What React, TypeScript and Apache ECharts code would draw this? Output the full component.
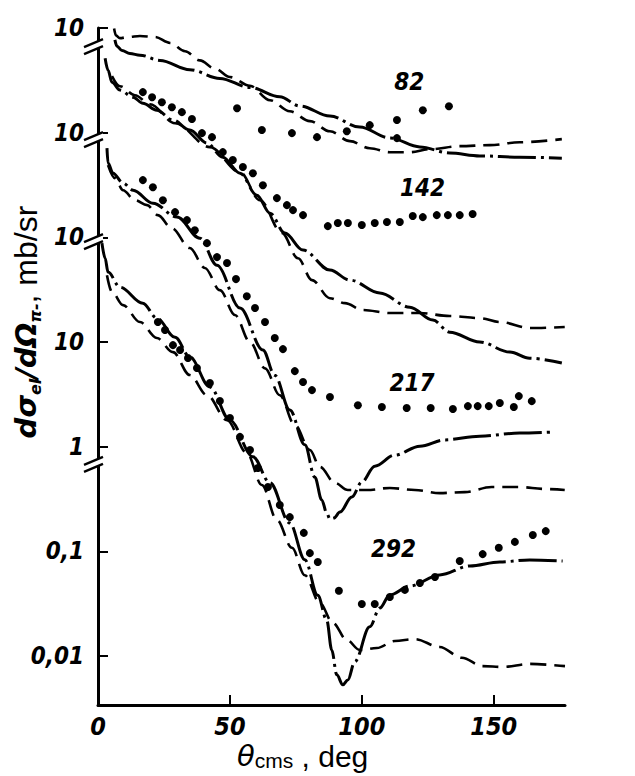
import React, { useEffect, useRef } from "react";
import * as echarts from "echarts";

type P = [number, number];

// ---- axes ----
const xMin = 0;
const xMax = 177;
const xLabelValues = [0, 50, 100, 150];
const xTickValues = [50, 100, 150];
const yMin = 0.0034;
const yMax = 10000;
const yTickValues = [0.01, 0.1, 1, 10, 100, 1000, 10000];
const yTickLabels = ["0,01", "0,1", "1", "10", "10", "10", "10"];
const axisBreaks = [6850, 885, 94, 0.7];

// ---- energy labels (MeV) ----
const energyNames = ["82", "142", "217", "292"];
const energyLabelAt: P[] = [[118, 3040], [123, 295], [119, 4.1], [112, 0.105]];

// ---- 82 MeV ----
const dashDot82: P[] = [[6.4,7700],[7.2,6700],[9.1,6100],[12.1,5700],[15.9,5500],[23.5,4900],[34.8,4000],[46.2,3300],[57.6,2700],[68.9,2200],[76.5,1800],[87.9,1440],[99.2,1130],[110.6,890],[122,730],[133.3,640],[144.7,600],[159.8,583],[175.8,571]];
const dashed82: P[] = [[6.1,9900],[6.8,8500],[8.3,8000],[11.4,8200],[15.9,8400],[21.6,8200],[27.3,7200],[33,6000],[38.6,4900],[44.3,4100],[50,3400],[57.6,2800],[65.2,2040],[72.7,1600],[80.3,1290],[87.9,1030],[95.5,830],[103,710],[110.6,650],[118.2,650],[125.8,695],[137.1,743],[148.5,760],[159.8,810],[175.8,867]];
const points82: P[] = [[52.7,1710],[62.1,1060],[73.5,990],[83,906],[94.3,1030],[103,1180],[113.3,1320],[113.3,887],[123.1,1640],[133,1790]];

// ---- 142 MeV ----
const dashDot142: P[] = [[2.7,5150],[3.8,3950],[5.3,3030],[8.3,2550],[13.3,2180],[17,1910],[22.3,1640],[28.4,1320],[34.8,1060],[41.3,794],[47.3,583],[53.8,410],[60.2,253],[65.2,170],[70.8,110],[77.7,75.5],[87.9,48.6],[95.5,39],[106.8,29.3],[118.2,21.5],[126.9,16.2],[133.3,12.4],[144.7,10],[156.1,8.0],[163.6,7.0],[175.8,6.3]];
const dashed142: P[] = [[5.3,3470],[8.3,2780],[14,2280],[19.7,1870],[29.2,1230],[42.4,728],[53.8,420],[61.4,226],[69.7,110],[75.8,63],[81.1,39],[87.9,26.2],[93.6,23.5],[100.4,20.2],[110.6,18.9],[122,18.9],[133.3,17.7],[144.7,16.9],[152.3,15.5],[163.6,13.6],[176.9,13.9]];
const points142: P[] = [[17,2440],[20.5,2180],[24.2,1950],[28,1750],[31.8,1570],[35.6,1350],[39.4,990],[43.2,906],[47.3,652],[51.1,547],[54.9,469],[58.7,410],[62.5,315],[67.8,237],[71.6,203],[73.9,182],[77.7,163],[87.1,128],[90.9,137],[94.7,137],[100,131],[104.9,137],[109.5,140],[114.4,140],[119.3,160],[123.1,156],[128.4,163],[132.6,163],[137.1,163],[142,167]];

// ---- 217 MeV ----
const dashDot217: P[] = [[3.4,711],[3.8,512],[5.7,410],[9.5,330],[13.3,282],[20.8,212],[29.9,156],[38.6,98],[45.1,54],[53.8,21.1],[62.5,8.4],[67,4.8],[72.7,2.24],[78.4,1.04],[82.2,0.51],[84.8,0.31],[86.7,0.232],[87.9,0.203],[89.4,0.208],[91.7,0.237],[96.2,0.33],[100,0.46],[104.9,0.65],[112.5,0.83],[122,1.01],[131.4,1.16],[144.7,1.26],[159.8,1.35],[173.1,1.38]];
const dashed217: P[] = [[3.8,490],[6.4,368],[9.5,282],[14,226],[18.6,203],[22.7,163],[28,122],[34.8,79],[40.5,51],[46.2,31.3],[51.9,18.1],[57.6,10],[63.3,5.6],[68.9,3.1],[74.6,1.61],[80.3,0.93],[84.1,0.64],[89.8,0.45],[94.7,0.385],[101.9,0.385],[110.6,0.403],[120.1,0.385],[129.5,0.36],[139,0.368],[149.2,0.411],[159.8,0.411],[169.3,0.394],[176.9,0.385]];
const points217: P[] = [[17,352],[20.8,301],[24.6,226],[29.2,174],[33.7,146],[36.7,117],[41.3,88],[45.1,64.7],[48.9,56.8],[52.3,39.9],[56.4,27.4],[59.5,21.1],[63.3,15.5],[67,10.9],[70.1,8.55],[74.6,5.27],[77.7,4.14],[81.1,3.47],[87.9,2.98],[98.5,2.49],[107.6,2.39],[117,2.34],[126.1,2.34],[134.5,2.29],[140.2,2.44],[143.9,2.44],[148.1,2.44],[152.3,2.61],[157.6,2.39],[159.5,3.04],[164.4,2.72]];

// ---- 292 MeV ----
const dashDot292: P[] = [[1.5,88],[2.7,63],[3.8,46.6],[8.3,33.4],[17,23.5],[22.3,16.9],[29.2,11.1],[34.8,7.2],[42.4,3.71],[50,1.79],[58.7,0.8],[65.2,0.45],[72.7,0.186],[78.4,0.083],[83.3,0.038],[86.7,0.022],[88.6,0.0114],[90.5,0.0066],[92.8,0.0053],[94.7,0.0059],[97.3,0.0088],[103,0.019],[106.8,0.0287],[110.6,0.0383],[118.2,0.0467],[129.5,0.0594],[140.9,0.0724],[152.3,0.0791],[163.6,0.0826],[176.1,0.0807]];
const dashed292: P[] = [[3.4,43.5],[5.3,30],[9.5,22.5],[15.9,15.5],[22.3,10.9],[28.4,8.0],[34.8,4.83],[41.3,3.11],[48.9,1.79],[56.4,0.87],[62.1,0.43],[67.8,0.2],[73.5,0.108],[78.4,0.059],[84.1,0.032],[89,0.0207],[94.3,0.0142],[99.2,0.0114],[105.7,0.0119],[112.5,0.0139],[120.1,0.0145],[129.5,0.0122],[137.9,0.0096],[145.8,0.008],[153.4,0.00785],[163.6,0.0084],[177,0.008]];
const points292: P[] = [[22.7,15.5],[25.4,13],[28.4,9.33],[31.1,8.38],[34.1,7.02],[37.5,5.64],[42.4,4.05],[46.2,2.73],[50,1.88],[53.8,1.24],[57.6,0.93],[60.6,0.625],[64.4,0.411],[68.9,0.277],[72.7,0.212],[78,0.15],[80.3,0.096],[83.3,0.079],[91.3,0.042],[100,0.0314],[104.9,0.0314],[110.6,0.0366],[116.3,0.0428],[122,0.0498],[127.7,0.0569],[137.1,0.0807],[145.8,0.094],[151.9,0.108],[158,0.123],[164.8,0.143],[169.7,0.156]];

const dashDotCurves = [dashDot82, dashDot142, dashDot217, dashDot292];
const dashedCurves = [dashed82, dashed142, dashed217, dashed292];
const pointSets = [points82, points142, points217, points292];

const numFont = "'Liberation Sans Narrow', 'DejaVu Sans Condensed', 'Arial Narrow', sans-serif";
const textFont = "'Liberation Sans', Arial, 'DejaVu Sans', sans-serif";

export default function App() {
  const ref = useRef<HTMLDivElement>(null);

  useEffect(() => {
    const el = ref.current as HTMLDivElement;
    const chart = echarts.init(el, null, { renderer: "svg" });
    const lg = (pts: P[]) => pts.map(([x, v]) => [x, Math.log10(v)]);

    const dashDotStyle = { color: "#000", width: 3, type: [38, 5, 3, 5] as number[] };
    const dashedStyle = { color: "#000", width: 2.6, type: [16, 8] as number[] };

    const lineSeries = (data: P[], style: any) => ({
      type: "line",
      data: lg(data),
      symbol: "none",
      showSymbol: false,
      smooth: 0.35,
      smoothMonotone: "x",
      lineStyle: style,
      silent: true,
      z: 3,
    });
    const dotSeries = (data: P[]) => ({
      type: "scatter",
      data: lg(data),
      symbol: "circle",
      symbolSize: 8,
      itemStyle: { color: "#000", opacity: 1 },
      silent: true,
      z: 4,
    });

    const yLog = yTickValues.map((v) => Math.log10(v));

    const series: any[] = [];
    dashDotCurves.forEach((c) => series.push(lineSeries(c, dashDotStyle)));
    dashedCurves.forEach((c) => series.push(lineSeries(c, dashedStyle)));
    pointSets.forEach((p) => series.push(dotSeries(p)));
    series.push({
      type: "scatter",
      data: energyLabelAt.map((p, i) => ({ value: [p[0], Math.log10(p[1])], name: energyNames[i] })),
      symbolSize: 0.1,
      itemStyle: { color: "#fff", opacity: 1 },
      silent: true,
      label: {
        show: true,
        position: "inside",
        formatter: "{b}",
        color: "#000",
        opacity: 1,
        fontFamily: numFont,
        fontStyle: "italic",
        fontWeight: "bold",
        fontSize: 24,
      },
    });

    chart.setOption({
      animation: false,
      backgroundColor: "#fff",
      grid: { left: 98, top: 28, right: 70, bottom: 71, containLabel: false },
      xAxis: {
        type: "value",
        min: xMin,
        max: xMax,
        axisLine: { show: true, onZero: false, lineStyle: { color: "#000", width: 3 } },
        axisTick: { show: true, inside: true, length: 10, lineStyle: { color: "#000", width: 2 }, customValues: xTickValues },
        axisLabel: {
          show: true,
          customValues: xLabelValues,
          margin: 10,
          lineHeight: 22,
          color: "#000",
          fontFamily: numFont,
          fontStyle: "italic",
          fontWeight: "bold",
          fontSize: 25,
        },
        splitLine: { show: false },
      },
      yAxis: {
        type: "value",
        min: Math.log10(yMin),
        max: Math.log10(yMax),
        axisLine: { show: true, onZero: false, lineStyle: { color: "#000", width: 3 } },
        axisTick: { show: true, inside: true, length: 10, lineStyle: { color: "#000", width: 2 }, customValues: yLog },
        axisLabel: {
          show: true,
          customValues: yLog,
          margin: 14,
          color: "#000",
          fontFamily: numFont,
          fontStyle: "italic",
          fontWeight: "bold",
          fontSize: 24,
          formatter: (val: number) => {
            const i = yLog.findIndex((v) => Math.abs(v - val) < 1e-6);
            return i >= 0 ? yTickLabels[i] : "";
          },
        },
        splitLine: { show: false },
      },
      series,
    });

    const ax = chart.convertToPixel({ xAxisIndex: 0 }, 0) as number;
    const breakYs = axisBreaks.map((v) => chart.convertToPixel({ yAxisIndex: 0 }, Math.log10(v)) as number);

    const graphics: any[] = [];
    breakYs.forEach((by) => {
      graphics.push({
        type: "polygon",
        z: 100,
        shape: { points: [[ax - 14, by + 2], [ax + 5, by - 6], [ax + 5, by + 1], [ax - 14, by + 9]] },
        style: { fill: "#fff" },
      });
      graphics.push({
        type: "line",
        z: 101,
        shape: { x1: ax - 14, y1: by + 2, x2: ax + 5, y2: by - 6 },
        style: { stroke: "#000", lineWidth: 2.4 },
      });
      graphics.push({
        type: "line",
        z: 101,
        shape: { x1: ax - 14, y1: by + 9, x2: ax + 5, y2: by + 1 },
        style: { stroke: "#000", lineWidth: 2.4 },
      });
    });

    graphics.push({
      type: "text",
      z: 101,
      x: 26,
      y: 322,
      rotation: Math.PI / 2,
      style: {
        text: "{i|dσ}{s|el}{i|/dΩ}{s|π-}{n|, mb/sr}",
        align: "center",
        verticalAlign: "middle",
        fill: "#000",
        rich: {
          i: { fontFamily: "'DejaVu Sans', sans-serif", fontStyle: "italic", fontWeight: "bold", fontSize: 29, lineHeight: 34, fill: "#000" },
          s: { fontFamily: "'DejaVu Sans', sans-serif", fontStyle: "italic", fontWeight: "bold", fontSize: 16, lineHeight: 14, verticalAlign: "bottom", fill: "#000" },
          n: { fontFamily: textFont, fontSize: 32, lineHeight: 34, fill: "#000" },
        },
      },
    });

    graphics.push({
      type: "text",
      z: 101,
      x: 237,
      y: 756,
      style: {
        text: "{t|θ}{s|cms}{n| , deg}",
        align: "left",
        verticalAlign: "middle",
        fill: "#000",
        rich: {
          t: { fontFamily: "'DejaVu Sans', sans-serif", fontStyle: "italic", fontSize: 29, lineHeight: 30, fill: "#000" },
          s: { fontFamily: textFont, fontSize: 21, lineHeight: 16, verticalAlign: "bottom", fill: "#000" },
          n: { fontFamily: textFont, fontSize: 30, lineHeight: 30, fill: "#000" },
        },
      },
    });

    chart.setOption({ graphic: graphics });

    return () => {
      chart.dispose();
    };
  }, []);

  return (
    <div
      ref={ref}
      style={{ position: "fixed", left: 0, top: 0, width: 635, height: 776, background: "#fff" }}
    />
  );
}
